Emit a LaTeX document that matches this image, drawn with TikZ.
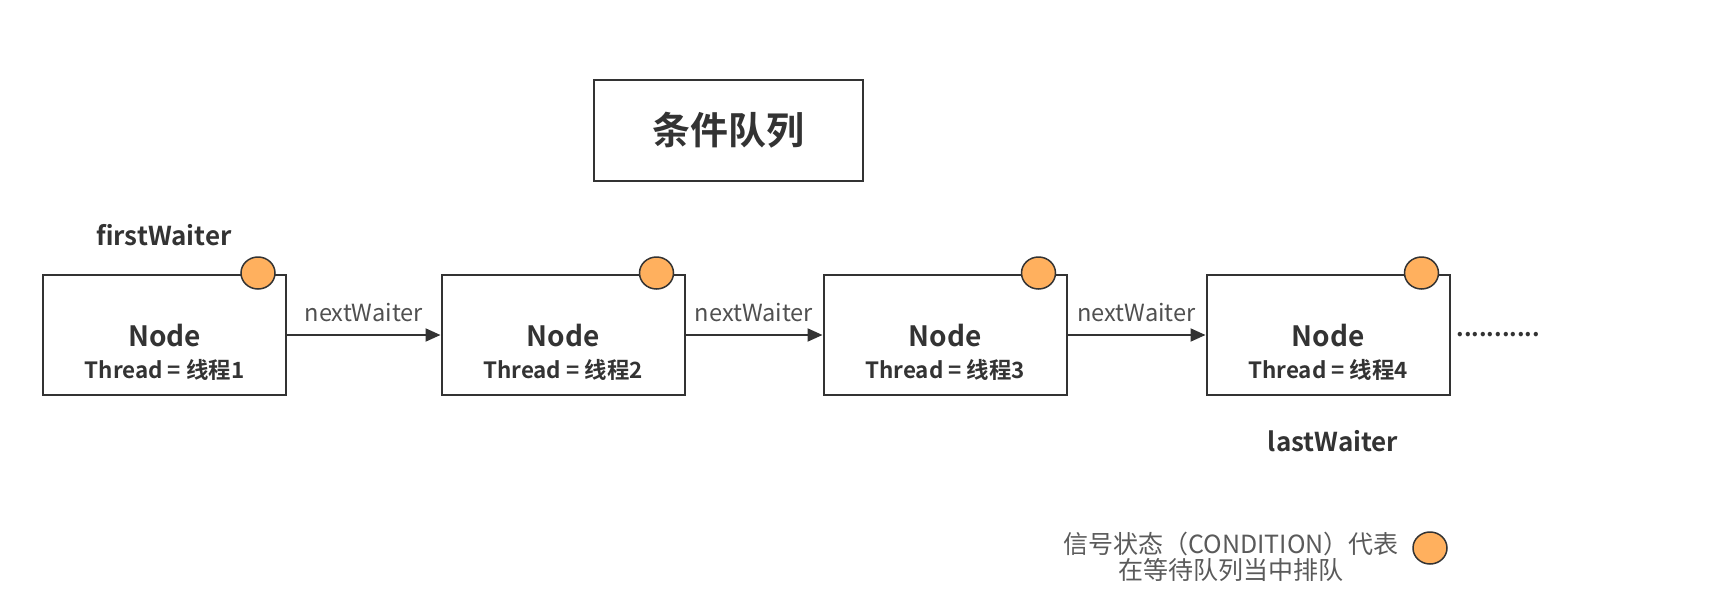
\documentclass[tikz,border=0pt]{standalone}
\usepackage{fontspec}
\setmainfont{Noto Sans CJK SC}[BoldFont={Noto Sans CJK SC Bold}]
\usetikzlibrary{arrows.meta,shapes.geometric}
\definecolor{linec}{HTML}{333333}
\definecolor{dotfill}{HTML}{FFB05E}
\definecolor{labc}{HTML}{505050}
\definecolor{legc}{HTML}{5A5A5A}
\tikzset{
  qbox/.style={draw=linec, line width=1pt, fill=white, minimum width=121.5pt, minimum height=60pt, inner sep=0pt},
  titlebox/.style={draw=linec, line width=1pt, minimum width=134.5pt, minimum height=50.5pt, inner sep=0pt, font=\fontsize{19pt}{22pt}\selectfont\bfseries, text=linec},
  nodetitle/.style={font=\fontsize{14pt}{16pt}\selectfont\bfseries, text=linec, inner sep=0pt},
  threadtxt/.style={font=\fontsize{11.2pt}{13pt}\selectfont\bfseries, text=linec, inner sep=0pt},
  sigdot/.style={ellipse, draw=linec, line width=0.75pt, fill=dotfill, minimum width=17pt, minimum height=16pt, inner sep=0pt},
  linkarrow/.style={draw=linec, line width=1pt, -{Triangle[length=7.5pt,width=6.5pt]}},
  linklabel/.style={font=\fontsize{11.8pt}{14pt}\selectfont, text=labc, inner sep=0pt},
  waitername/.style={font=\fontsize{13pt}{15pt}\selectfont\bfseries, text=linec, inner sep=0pt},
  legendtxt/.style={font=\fontsize{12.5pt}{13pt}\selectfont, text=legc, align=center, inner sep=0pt}
}
\begin{document}
\begin{tikzpicture}[x=0.5pt,y=-0.5pt]
\useasboundingbox (0,0) rectangle (1736,600);
% title
\node[titlebox] (title) at (728.5,130.5) {条件队列};
% nodes
\node[qbox] (n1) at (164.5,335) {};
\node[qbox] (n2) at (563,335) {};
\node[qbox] (n3) at (945,335) {};
\node[qbox] (n4) at (1328,335) {};
\foreach \i/\k in {n1/1,n2/2,n3/3,n4/4}{
  \node[nodetitle] (\i t) at ([yshift=-0.5pt]\i.center) {Node};
  \node[threadtxt] (\i r) at ([yshift=-17.5pt]\i.center) {Thread = 线程\k};
  \node[sigdot] (\i d) at ([xshift=-14.5pt,yshift=0.5pt]\i.north east) {};
}
% arrows
\draw[linkarrow] (n1.east) -- (n2.west) node[linklabel, midway, yshift=11pt] (l1) {nextWaiter};
\draw[linkarrow] (n2.east) -- (n3.west) node[linklabel, midway, yshift=11pt] (l2) {nextWaiter};
\draw[linkarrow] (n3.east) -- (n4.west) node[linklabel, midway, yshift=11pt] (l3) {nextWaiter};
% dots
\node[font=\fontsize{11.7pt}{14pt}\selectfont\bfseries, text=linec, inner sep=0pt, anchor=base west] (more) at (1456,336) {...........};
% waiter names
\node[waitername] (first) at (164,235) {firstWaiter};
\node[waitername] (last) at (1333,441) {lastWaiter};
% legend
\node[legendtxt] (legend) at (1231,557) {信号状态（CONDITION）代表\\在等待队列当中排队};
\node[sigdot] (legdot) at (1430,548) {};
\end{tikzpicture}
\end{document}
